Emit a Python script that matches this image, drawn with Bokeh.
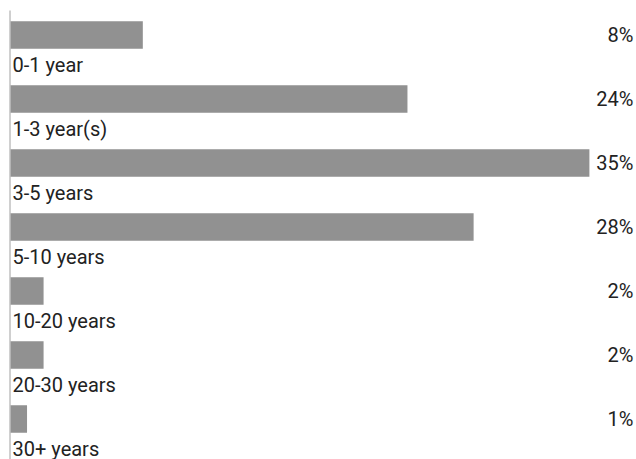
from bokeh.plotting import figure
from bokeh.models import Range1d, ColumnDataSource
from bokeh.core.properties import value
from bokeh.embed import file_html
from bokeh.resources import INLINE

categories = ["0-1 year", "1-3 year(s)", "3-5 years", "5-10 years", "10-20 years", "20-30 years", "30+ years"]
percents = [8, 24, 35, 28, 2, 2, 1]

W, H = 636, 459
px_per_unit_x = 16.54
px_per_row = 64.0
x0_px = 10.0
row0_center_px = 34.5

x_start = -x0_px / px_per_unit_x
x_end = (W - x0_px) / px_per_unit_x
y_top = row0_center_px / px_per_row
y_bot = y_top - H / px_per_row

p = figure(width=W, height=H, output_backend="svg", toolbar_location=None,
           x_range=Range1d(x_start, x_end), y_range=Range1d(y_bot, y_top),
           min_border=0, outline_line_color=None)
p.axis.visible = False
p.grid.visible = False
p.background_fill_color = "white"
p.border_fill_color = "white"

ys = [-i for i in range(len(categories))]
src = ColumnDataSource(dict(
    y=ys, v=percents, cat=categories,
    lab=[f"{v}%" for v in percents],
    ylab=[y - 29.5 / px_per_row for y in ys],
    xr=[x_end - 3.0 / px_per_unit_x] * len(ys),
    xl=[2.0 / px_per_unit_x] * len(ys),
))

p.hbar(y="y", left=0, right="v", height=27.5 / px_per_row, source=src,
       fill_color="#919191", line_color=None)

# axis line
p.segment(x0=[-0.5 / px_per_unit_x], x1=[-0.5 / px_per_unit_x],
          y0=[y_top - 10 / px_per_row], y1=[y_bot], line_color="#a0a0a0", line_width=1)

p.text(x="xl", y="ylab", text="cat", source=src, text_font=value("Roboto"),
       text_font_size="20px", text_color="#222222", text_baseline="alphabetic",
       text_align="left")
p.text(x="xr", y="y", text="lab", source=src, text_font=value("Roboto"),
       text_font_size="20px", text_color="#222222", text_baseline="middle",
       text_align="right")

open("out.html", "w").write(file_html(p, INLINE))
